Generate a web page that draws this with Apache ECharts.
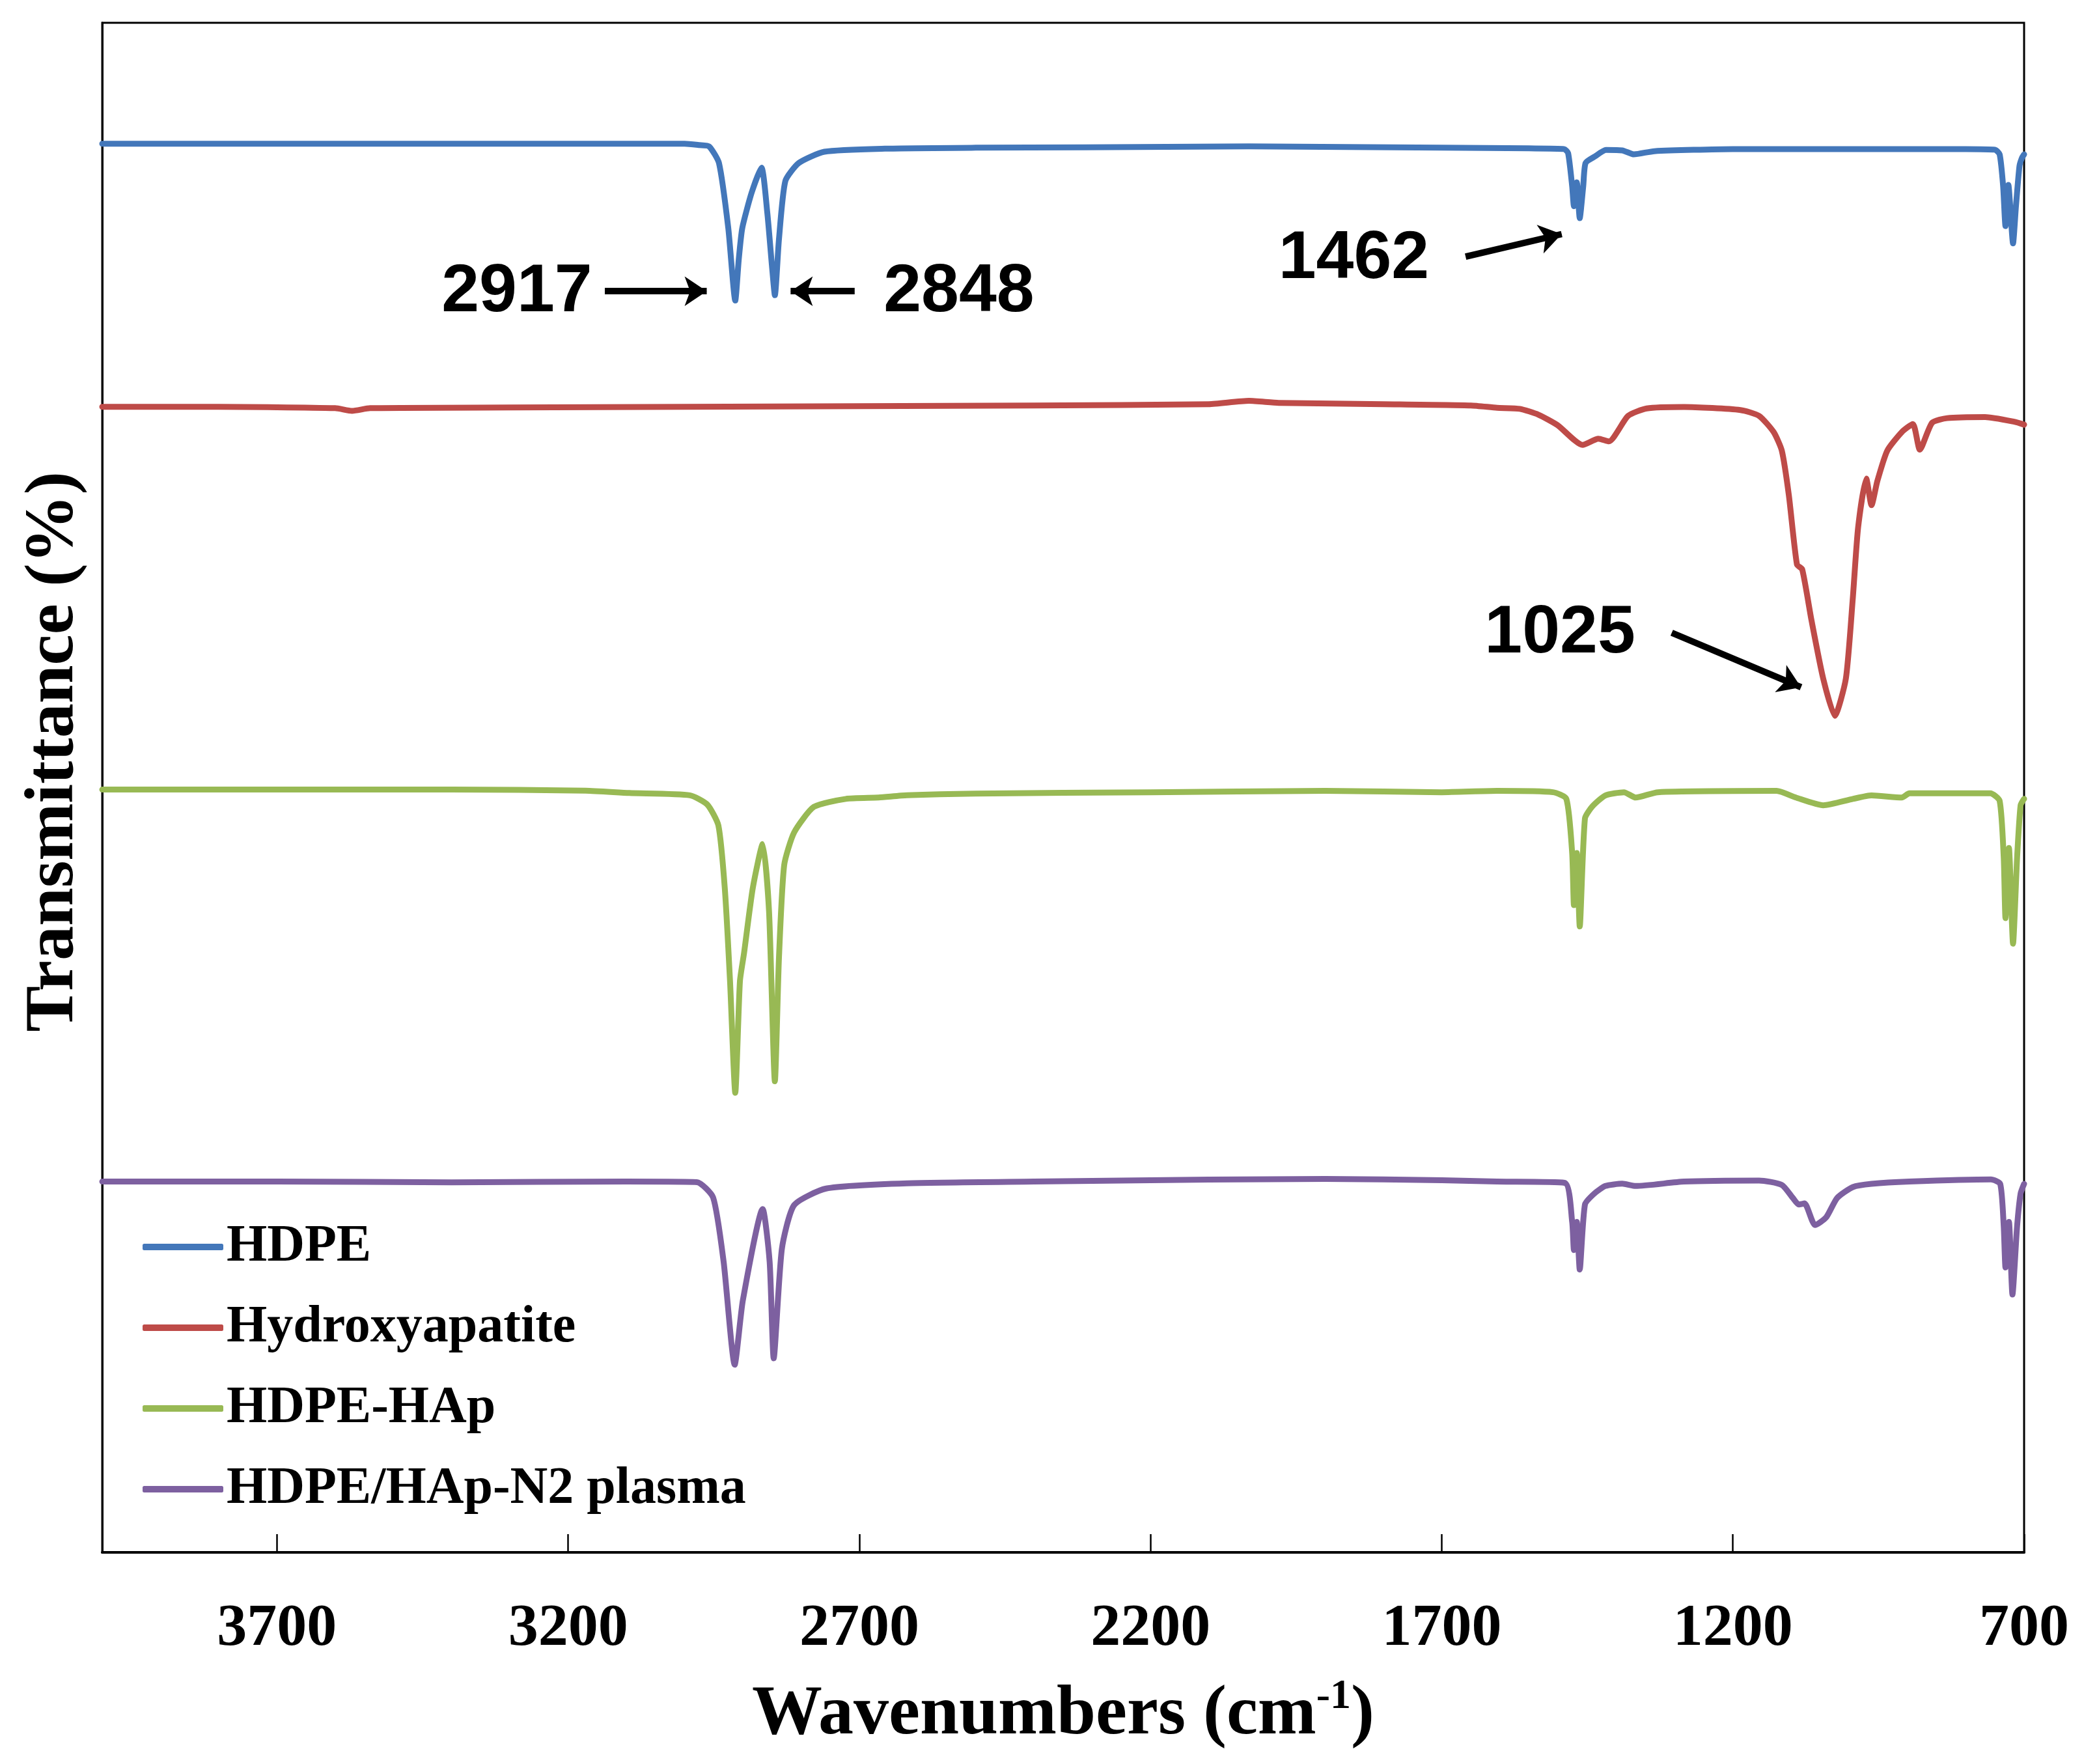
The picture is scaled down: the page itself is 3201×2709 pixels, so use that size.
<!DOCTYPE html>
<html>
<head>
<meta charset="utf-8">
<script src="https://cdn.jsdelivr.net/npm/echarts@6/dist/echarts.min.js"></script>
<style>
  html, body { margin: 0; padding: 0; background: #fff; }
  #chart { width: 3201px; height: 2709px; }
</style>
</head>
<body>
<div id="chart"></div>
<script>
// ---- Data (wavenumber cm-1, transmittance in arbitrary offset units) ----
const seriesNames = ['HDPE', 'Hydroxyapatite', 'HDPE-HAp', 'HDPE/HAp-N2 plasma'];
const xTickLabels = [700, 1200, 1700, 2200, 2700, 3200, 3700];

const hdpe = [
  [4000,1060],[3800,1060],[3500,1060],[3200,1060],[3000,1060],[2975,1059],[2958,1058],
  [2941,1045.5],[2925,996.5],[2913,942],[2907,973],[2901,996.5],[2885,1023],[2868,1042],
  [2858,1008],[2850,968],[2845,946],[2838,988],[2827,1032],[2804,1045.5],[2760,1054],
  [2656,1056.3],[2500,1057],[2314,1057.3],[2031,1058],[1700,1057],[1550,1056.5],[1490,1056],
  [1483,1053],[1476,1028],[1473,1013],[1468,1031],[1463,1004],[1457,1028],[1453,1045.5],
  [1437,1050.4],[1418,1055.3],[1390,1055],[1370,1052],[1335,1054.4],[1200,1056],[1000,1056],
  [800,1056],[750,1055.5],[742,1052],[736,1028],[732,998],[727,1029],[719,985],[714,1013],
  [708,1043],[704,1049],[700,1052]
];

const hap = [
  [4000,862],[3800,862],[3600,861],[3571,859],[3540,861],[3300,861.5],[3000,862],[2700,862.5],
  [2400,863],[2100,864],[2031,866.5],[1980,865],[1800,864],[1650,863],[1605,861.3],[1566,860.5],
  [1534,856.1],[1501,848.2],[1458,833.3],[1431,838],[1413,836],[1380,855.2],[1348,860.8],
  [1284,861.9],[1187,859.6],[1155,855.2],[1130,843],[1116,829],[1104,795.7],[1090,743.3],
  [1081,739.7],[1065,701.2],[1045,657.6],[1025,629.5],[1006,657.6],[994,718.8],[985,771.2],
  [971,808],[962,788],[952,806.2],[935,829],[910,843],[891,849.1],[879,829.8],[858,850],
  [832,853.5],[767,854.3],[717,850.8],[700,848.6]
];

const hdpeHap = [
  [4000,574],[3700,574],[3400,574],[3170,573.2],[3095,571.4],[2991,569.7],[2961,562.7],
  [2942,547],[2931,499.7],[2922,429.8],[2913,345.8],[2905,429.8],[2898,450.7],[2883,499.7],
  [2866,533],[2855,482.2],[2845,354.5],[2838,447.2],[2829,517.2],[2812,541.7],[2778,561],
  [2723,567],[2667,568],[2618,569.7],[2500,571],[2200,572],[1900,573],[1700,572],[1605,573],
  [1509,572],[1486,567],[1476,526.3],[1473,487],[1468,526.3],[1463,471],[1454,552.4],
  [1441,561.5],[1419,569.6],[1387,572],[1367,568],[1329,572],[1125,573],[1092,568],
  [1045,562.2],[994,567],[962,569.6],[910,568],[897,571.2],[758,571.2],[742,565.5],[735,523],
  [732,477.3],[726,530],[719,458],[712,523],[706,562.2],[700,567]
];

const hdpeHapN2 = [
  [4000,279],[3700,279],[3400,278.5],[3100,279],[2979,278.6],[2951,267],[2933,218.7],
  [2914,141.2],[2900,189.6],[2866,258.4],[2854,218.7],[2847,146],[2833,228.3],[2812,261.3],
  [2757,273.8],[2618,277.7],[2400,279],[2100,280.5],[1900,281],[1700,280],[1605,279],
  [1489,278.1],[1476,248.7],[1473,227.5],[1468,248.7],[1463,212.8],[1454,261.8],[1438,270],
  [1419,275.7],[1390,277.4],[1367,275.7],[1284,279],[1155,279.8],[1116,276.5],[1097,266.7],
  [1087,261.8],[1077,262.6],[1059,246.3],[1040,252],[1021,266.7],[994,274.9],[962,277.3],
  [897,279],[757,280.6],[741,277.3],[735,245.5],[732,214.4],[726,248.7],[720,194],
  [712,245.5],[706,270],[700,277.3]
];

// peak annotations (data coordinates)
const annotations = [
  { text: '2917', x: 3288, y: 948 },
  { text: '2848', x: 2529, y: 948 },
  { text: '1462', x: 1851, y: 973 },
  { text: '1025', x: 1497, y: 691 }
];
const arrows = [
  [[3137, 949], [2962, 949]],
  [[2708, 949], [2818, 949]],
  [[1659, 975], [1494, 992]],
  [[1305, 692], [1083, 651]]
];

// ---- Chart ----
const colors = ['#4377BA', '#BE4B48', '#98B954', '#7D60A0'];
const serif = '"Liberation Serif", "Times New Roman", serif';
const sans = '"Liberation Sans", Arial, sans-serif';
const chart = echarts.init(document.getElementById('chart'));

const dataSets = [hdpe, hap, hdpeHap, hdpeHapN2];
const lineSeries = dataSets.map((d, i) => ({
  name: seriesNames[i],
  type: 'line',
  data: d,
  showSymbol: false,
  symbol: 'none',
  smooth: 0.2,
  lineStyle: { color: colors[i], width: 9, cap: 'round', join: 'round' },
  itemStyle: { color: colors[i] },
  z: 2 + i
}));

lineSeries[0].markLine = {
  silent: true,
  symbol: ['none', 'arrow'],
  symbolSize: [34, 34],
  label: { show: false },
  lineStyle: { color: '#000', width: 10, type: 'solid', opacity: 1 },
  emphasis: { disabled: true },
  data: arrows.map(a => [{ coord: a[0] }, { coord: a[1] }])
};

const labelSeries = {
  name: 'annotations',
  type: 'scatter',
  symbolSize: 0,
  silent: true,
  itemStyle: { color: '#000', opacity: 1 },
  data: annotations.map(a => ({ value: [a.x, a.y], name: a.text })),
  label: {
    show: true,
    position: 'inside',
    formatter: p => p.name,
    fontFamily: sans,
    fontWeight: 'bold',
    fontSize: 104,
    color: '#000',
    opacity: 1,
    textBorderWidth: 0
  },
  z: 10
};

chart.setOption({
  animation: false,
  backgroundColor: '#fff',
  grid: {
    left: 157, right: 92, top: 35, bottom: 325,
    show: true, borderColor: '#000', borderWidth: 3, backgroundColor: 'transparent'
  },
  legend: {
    data: seriesNames,
    orient: 'vertical',
    left: 214,
    top: 1870,
    icon: 'roundRect',
    itemWidth: 124,
    itemHeight: 10,
    itemGap: 44,
    textStyle: { fontFamily: serif, fontWeight: 'bold', fontSize: 80, lineHeight: 80, color: '#000' }
  },
  xAxis: {
    type: 'value',
    inverse: true,
    min: 700,
    max: 4000,
    interval: 500,
    name: '{a|Wavenumbers (cm}{s|-1}{a|)}',
    nameLocation: 'middle',
    nameGap: 190,
    nameTextStyle: {
      rich: {
        a: { fontFamily: serif, fontWeight: 'bold', fontSize: 108, color: '#000', lineHeight: 120 },
        s: { fontFamily: serif, fontWeight: 'bold', fontSize: 64, color: '#000', lineHeight: 120, verticalAlign: 'top', padding: [0, 0, 40, 0] }
      }
    },
    axisLine: { show: true, lineStyle: { color: '#000', width: 4 } },
    axisTick: { show: true, inside: true, length: 28, lineStyle: { color: '#000', width: 2.5 } },
    axisLabel: {
      showMaxLabel: false,
      margin: 72,
      fontFamily: serif, fontWeight: 'bold', fontSize: 92, color: '#000',
      formatter: v => (xTickLabels.indexOf(v) >= 0 ? String(v) : '')
    },
    splitLine: { show: false }
  },
  yAxis: {
    type: 'value',
    min: 0,
    max: 1151,
    name: 'Transmittance (%)',
    nameLocation: 'middle',
    nameGap: 20,
    nameRotate: 90,
    nameTextStyle: { fontFamily: serif, fontWeight: 'bold', fontSize: 106, color: '#000', padding: [0, 0, 0, 110] },
    axisLine: { show: true, lineStyle: { color: '#000', width: 3 } },
    axisTick: { show: false },
    axisLabel: { show: false },
    splitLine: { show: false }
  },
  series: [...lineSeries, labelSeries]
});
</script>
</body>
</html>
